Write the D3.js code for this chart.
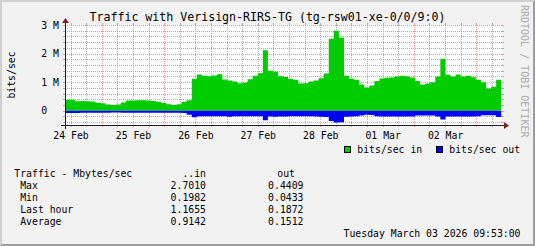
<!DOCTYPE html>
<html>
<head>
<meta charset="utf-8">
<script src="https://cdn.jsdelivr.net/npm/d3@7"></script>
<style>
  body { margin: 0; background: #f2f2f2; }
  svg text { font-family: "DejaVu Sans Mono", monospace; fill: #000; }
</style>
</head>
<body>
<svg id="chart" width="535" height="246"></svg>
<script>
// ---- data (values in M) ----
var title = "Traffic with Verisign-RIRS-TG (tg-rsw01-xe-0/0/9:0)";
var graphStart = Date.UTC(2026, 1, 24, 9, 53);
var graphEnd = Date.UTC(2026, 2, 3, 9, 53);
var stepMinutes = 117;

var bitsIn = [
  0.38, 0.38, 0.33, 0.34, 0.33, 0.32, 0.28, 0.26, 0.22, 0.20,
  0.22, 0.29, 0.36, 0.36, 0.37, 0.37, 0.36, 0.34, 0.31, 0.27,
  0.23, 0.20, 0.23, 0.31, 0.37, 1.12, 1.27, 1.22, 1.21, 1.23,
  1.28, 1.09, 1.06, 1.02, 0.96, 0.99, 1.10, 1.22, 1.31, 2.12,
  1.40, 1.36, 1.21, 1.18, 1.11, 1.08, 0.95, 0.96, 1.02, 1.06,
  1.14, 1.30, 2.52, 2.80, 2.55, 1.22, 1.12, 1.08, 0.92, 0.81,
  0.88, 1.04, 1.13, 1.15, 1.16, 1.20, 1.22, 1.20, 1.16, 1.04,
  0.92, 0.95, 1.00, 1.20, 1.82, 1.26, 1.20, 1.27, 1.20, 1.22,
  1.17, 1.08, 1.00, 0.78, 0.84, 1.08
];
var bitsOut = [
  0.08, 0.08, 0.08, 0.07, 0.07, 0.07, 0.07, 0.07, 0.07, 0.06,
  0.06, 0.07, 0.07, 0.07, 0.07, 0.07, 0.07, 0.07, 0.07, 0.07,
  0.07, 0.07, 0.07, 0.08, 0.14, 0.23, 0.19, 0.19, 0.19, 0.19,
  0.19, 0.19, 0.21, 0.19, 0.19, 0.19, 0.19, 0.19, 0.19, 0.33,
  0.20, 0.21, 0.20, 0.20, 0.19, 0.19, 0.19, 0.19, 0.19, 0.20,
  0.21, 0.22, 0.36, 0.41, 0.40, 0.21, 0.20, 0.19, 0.17, 0.14,
  0.15, 0.19, 0.20, 0.20, 0.20, 0.20, 0.20, 0.20, 0.20, 0.17,
  0.17, 0.17, 0.17, 0.20, 0.31, 0.20, 0.20, 0.20, 0.20, 0.20,
  0.20, 0.19, 0.16, 0.16, 0.16, 0.22
];

var yTicks = [0, 1, 2, 3];
var yTickLabels = ["0  ", "1 M", "2 M", "3 M"];
var labelDays = ["2026-02-24", "2026-02-25", "2026-02-26", "2026-02-27", "2026-02-28", "2026-03-01", "2026-03-02"];

var legendNames = ["bits/sec in", "bits/sec out"];
var legendColors = ["#00cc00", "#0000ff"];

var statHeader = ["Traffic - Mbytes/sec", "..in", "out"];
var statNames = ["Max", "Min", "Last hour", "Average"];
var statIn = ["2.7010", "0.1982", "1.1655", "0.9142"];
var statOut = ["0.4409", "0.0433", "0.1872", "0.1512"];
var stamp = "Tuesday March 03 2026 09:53:00";
var watermark = "RRDTOOL / TOBI OETIKER";

// ---- layout ----
var W = 535, H = 246;
var X0 = 65, X1 = 502, Y0 = 125, Y1 = 25;
var fs = "9.8px";

var svg = d3.select("#chart");

// background + 3d frame
svg.append("rect").attr("width", W).attr("height", H).attr("fill", "#f2f2f2");
svg.append("path")
  .attr("d", "M0," + H + "L2," + (H - 2) + "L2,2L" + (W - 2) + ",2L" + W + ",0L0,0Z")
  .attr("fill", "#cfcfcf");
svg.append("path")
  .attr("d", "M2," + (H - 2) + "L" + (W - 2) + "," + (H - 2) + "L" + (W - 2) + ",2L" + W + ",0L" + W + "," + H + "L0," + H + "Z")
  .attr("fill", "#9e9e9e");

// canvas
svg.append("rect")
  .attr("x", X0).attr("y", Y1)
  .attr("width", X1 - X0).attr("height", Y0 - Y1)
  .attr("fill", "#fff");

var x = d3.scaleUtc().domain([graphStart, graphEnd]).range([X0, X1]);
var y = d3.scaleLinear().domain([-0.5, 3]).range([Y0, Y1]);

var gridCol = "#ababab", mgridCol = "#eb9595";
var grid = svg.append("g").attr("shape-rendering", "crispEdges");

// horizontal grid, every 0.2 M, red on whole M
d3.range(-2, 16).forEach(function(k) {
  var v = k / 5, yy = Math.round(y(v)) + 0.5;
  var col = (k % 5 === 0) ? mgridCol : gridCol;
  grid.append("line").attr("x1", X0 - 2).attr("x2", X1 + 2).attr("y1", yy).attr("y2", yy)
    .attr("stroke", col).attr("stroke-dasharray", "1,1");
  grid.append("line").attr("x1", X0 - 2).attr("x2", X0).attr("y1", yy).attr("y2", yy).attr("stroke", col);
  grid.append("line").attr("x1", X1).attr("x2", X1 + 2).attr("y1", yy).attr("y2", yy).attr("stroke", col);
});

// vertical grid, every 6 hours, red at midnight
d3.utcHour.every(6).range(graphStart, graphEnd).forEach(function(t) {
  var xx = Math.round(x(t)) + 0.5;
  var col = t.getUTCHours() === 0 ? mgridCol : gridCol;
  grid.append("line").attr("x1", xx).attr("x2", xx).attr("y1", Y1 - 2).attr("y2", Y0 + 2)
    .attr("stroke", col).attr("stroke-dasharray", "1,1");
  grid.append("line").attr("x1", xx).attr("x2", xx).attr("y1", Y0).attr("y2", Y0 + 2).attr("stroke", col);
  grid.append("line").attr("x1", xx).attr("x2", xx).attr("y1", Y1 - 2).attr("y2", Y1).attr("stroke", col);
});

// ---- data ----
var stepMs = stepMinutes * 60 * 1000;
function series(vals, sign) {
  var pts = vals.map(function(v, i) { return { t: graphStart + i * stepMs, v: sign * v }; });
  pts.push({ t: Math.min(graphStart + vals.length * stepMs, graphEnd), v: sign * vals[vals.length - 1] });
  return pts;
}
var area = d3.area()
  .curve(d3.curveStepAfter)
  .x(function(d) { return x(Math.min(d.t, graphEnd)); })
  .y0(y(0))
  .y1(function(d) { return y(d.v); });

svg.append("path").datum(series(bitsIn, 1)).attr("d", area).attr("fill", legendColors[0]);
svg.append("path").datum(series(bitsOut, -1)).attr("d", area).attr("fill", legendColors[1]);

// ---- axes ----
var axisCol = "#1f1f1f", arrowCol = "#802020";
svg.append("line").attr("x1", X0 - 4).attr("x2", X1 + 4).attr("y1", Y0 + 0.5).attr("y2", Y0 + 0.5)
  .attr("stroke", axisCol).attr("shape-rendering", "crispEdges");
svg.append("line").attr("x1", X0 + 0.5).attr("x2", X0 + 0.5).attr("y1", Y0 + 4).attr("y2", Y1 - 4)
  .attr("stroke", axisCol).attr("shape-rendering", "crispEdges");
svg.append("path")
  .attr("d", "M" + (X1 + 2) + "," + (Y0 - 3) + "L" + (X1 + 2) + "," + (Y0 + 4) + "L" + (X1 + 7) + "," + (Y0 + 0.5) + "Z")
  .attr("fill", arrowCol);
svg.append("path")
  .attr("d", "M" + (X0 - 3) + "," + (Y1 - 2) + "L" + (X0 + 4) + "," + (Y1 - 2) + "L" + (X0 + 0.5) + "," + (Y1 - 7) + "Z")
  .attr("fill", arrowCol);

// day labels, centred on noon
var noons = labelDays.map(function(s) { return d3.utcHour.offset(new Date(s + "T00:00:00Z"), 12); });
var xAxis = svg.append("g")
  .attr("transform", "translate(0," + Y0 + ")")
  .call(d3.axisBottom(x).tickValues(noons).tickFormat(d3.utcFormat("%d %b")).tickSize(0));
xAxis.select(".domain").remove();
xAxis.selectAll("text")
  .attr("dy", null).attr("y", 13.5)
  .style("font-size", fs).style("font-family", "DejaVu Sans Mono");

var yAxis = svg.append("g")
  .attr("transform", "translate(" + X0 + ",0)")
  .call(d3.axisLeft(y).tickValues(yTicks).tickFormat(function(d, i) { return yTickLabels[i]; }).tickSize(0).tickPadding(6));
yAxis.select(".domain").remove();
yAxis.selectAll("text")
  .attr("dy", "0.33em")
  .style("white-space", "pre")
  .style("font-size", fs).style("font-family", "DejaVu Sans Mono");

// title and y label
svg.append("text").attr("x", 267.5).attr("y", 21).attr("text-anchor", "middle")
  .style("font-size", "11.6px").text(title);
svg.append("text").attr("transform", "translate(15,75) rotate(-90)").attr("text-anchor", "middle")
  .style("font-size", fs).text("bits/sec");

// watermark on the right edge
svg.append("text").attr("transform", "translate(520.5,5) rotate(90)")
  .style("font-size", "10px").style("fill", "#aaaaaa").text(watermark);

// ---- legend ----
var legX = [344, 436];
legendNames.forEach(function(n, i) {
  svg.append("rect").attr("x", legX[i] + 0.5).attr("y", 146.5).attr("width", 6).attr("height", 6)
    .attr("fill", legendColors[i]).attr("stroke", "#000").attr("stroke-width", 1)
    .attr("shape-rendering", "crispEdges");
  svg.append("text").attr("x", legX[i] + 13.3).attr("y", 153)
    .style("font-size", fs).text(n);
});

// ---- stats table ----
svg.append("text").attr("x", 14.3).attr("y", 177).style("font-size", fs).text(statHeader[0]);
svg.append("text").attr("x", 206).attr("y", 177).attr("text-anchor", "end").style("font-size", fs).text(statHeader[1]);
svg.append("text").attr("x", 295).attr("y", 177).attr("text-anchor", "end").style("font-size", fs).text(statHeader[2]);
statNames.forEach(function(n, i) {
  var yy = 189 + i * 12;
  svg.append("text").attr("x", 20.2).attr("y", yy).style("font-size", fs).text(n);
  svg.append("text").attr("x", 206).attr("y", yy).attr("text-anchor", "end").style("font-size", fs).text(statIn[i]);
  svg.append("text").attr("x", 303.5).attr("y", yy).attr("text-anchor", "end").style("font-size", fs).text(statOut[i]);
});
svg.append("text").attr("x", 520.5).attr("y", 236.7).attr("text-anchor", "end").style("font-size", fs).text(stamp);
</script>
</body>
</html>
